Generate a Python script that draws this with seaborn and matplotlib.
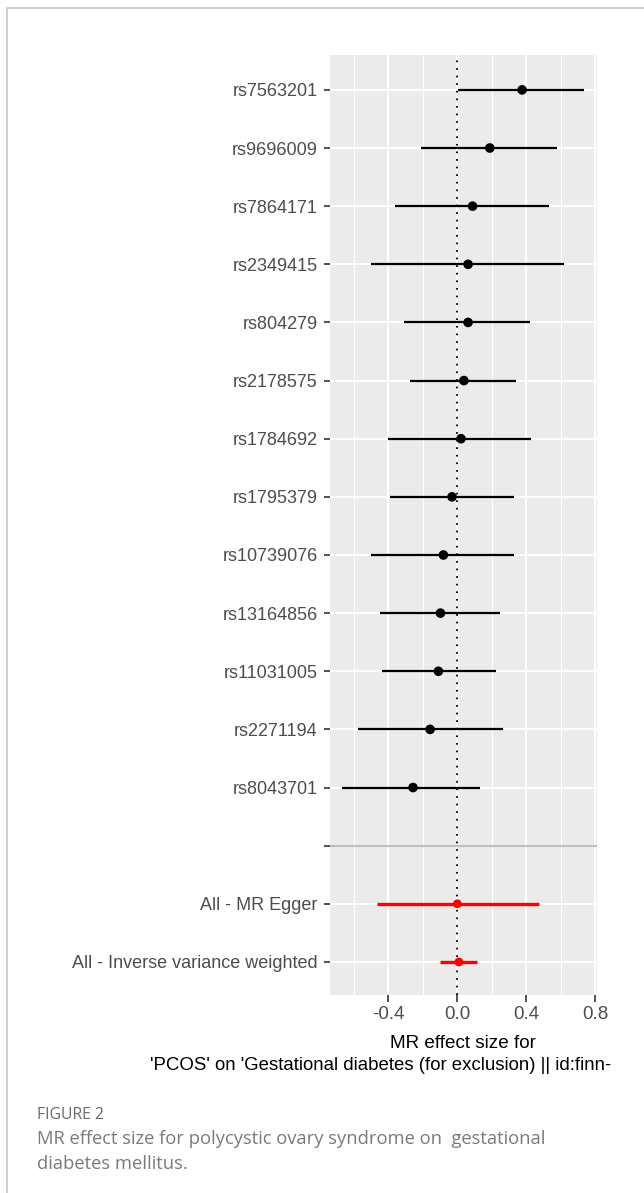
import numpy as np
import pandas as pd
import matplotlib
matplotlib.use("Agg")
import matplotlib.pyplot as plt
from matplotlib.lines import Line2D
import seaborn as sns

# ---------------- data ----------------
snps = ["rs7563201", "rs9696009", "rs7864171", "rs2349415", "rs804279",
        "rs2178575", "rs1784692", "rs1795379", "rs10739076", "rs13164856",
        "rs11031005", "rs2271194", "rs8043701"]
snp_b = [0.375, 0.188, 0.088, 0.062, 0.062, 0.038, 0.021, -0.031, -0.081,
         -0.098, -0.110, -0.158, -0.257]
snp_lo = [0.003, -0.212, -0.360, -0.500, -0.312, -0.272, -0.401, -0.389,
          -0.499, -0.448, -0.438, -0.577, -0.668]
snp_hi = [0.736, 0.579, 0.529, 0.619, 0.419, 0.340, 0.429, 0.330, 0.330,
          0.249, 0.221, 0.262, 0.132]

methods = ["All - MR Egger", "All - Inverse variance weighted"]
meth_b = [0.000, 0.009]
meth_lo = [-0.468, -0.102]
meth_hi = [0.471, 0.113]

row_labels = snps + [""] + methods
x_ticks = [-0.4, 0.0, 0.4, 0.8]
x_minor = [-0.6, -0.2, 0.2, 0.6]

title_line1 = "MR effect size for"
title_line2 = "'PCOS' on 'Gestational diabetes (for exclusion) || id:finn-"
fig_label = "FIGURE 2"
caption1 = "MR effect size for polycystic ovary syndrome on  gestational"
caption2 = "diabetes mellitus."

df = pd.DataFrame({
    "label": snps + methods,
    "b": snp_b + meth_b,
    "lo": snp_lo + meth_lo,
    "hi": snp_hi + meth_hi,
    "group": ["snp"] * len(snps) + ["all"] * len(methods),
})
df["pos"] = [row_labels.index(l) for l in df["label"]]

# ---------------- style ----------------
sns.set_theme(style="darkgrid", rc={
    "axes.facecolor": "#EBEBEB",
    "grid.color": "white",
    "axes.edgecolor": "#EBEBEB",
    "xtick.color": "#333333",
    "ytick.color": "#333333",
    "xtick.labelcolor": "#4D4D4D",
    "ytick.labelcolor": "#4D4D4D",
})
plt.rcParams["font.family"] = ["Liberation Sans", "DejaVu Sans"]

W, H = 644, 1193
fig = plt.figure(figsize=(W / 100, H / 100), dpi=100)

# outer frame (left and top only)
fig.add_artist(Line2D([7 / W, 7 / W], [0, 1 - 8 / H], color="#CCCCCC", lw=1.3,
                      transform=fig.transFigure))
fig.add_artist(Line2D([7 / W, 1], [1 - 8 / H, 1 - 8 / H], color="#CCCCCC", lw=1.3,
                      transform=fig.transFigure))

pl, pr, pt, pb = 330, 596.5, 55, 994.5
ax = fig.add_axes([pl / W, 1 - pb / H, (pr - pl) / W, (pb - pt) / H])

# grid
ax.set_xticks(x_ticks)
ax.set_xticks(x_minor, minor=True)
ax.set_yticks(range(len(row_labels)))
ax.set_yticklabels(row_labels)
ax.grid(True, which="major", axis="both", color="white", lw=1.4)
ax.grid(True, which="minor", axis="x", color="white", lw=0.8)
ax.set_axisbelow(True)

# separator line for blank row
ax.axhline(row_labels.index(""), color="#BEBEBE", lw=1.5, zorder=1.5)
# zero reference
ax.axvline(0, color="black", lw=1.3, ls=(0, (1, 3.2)), zorder=2)

# error bars
snp_df = df[df.group == "snp"]
all_df = df[df.group == "all"]
ax.hlines(snp_df["pos"], snp_df["lo"], snp_df["hi"], colors="black", lw=1.6, zorder=2.5)
ax.hlines(all_df["pos"], all_df["lo"], all_df["hi"], colors="#FF0000", lw=2.4, zorder=2.5)

# points
sns.scatterplot(data=df, x="b", y="pos", hue="group",
                palette={"snp": "black", "all": "#FF0000"},
                size="group", sizes={"snp": 48, "all": 40},
                legend=False, linewidth=0, ax=ax, zorder=3)

ax.set_xlim(-0.738, 0.806)
ax.set_ylim(15.56, -0.6)
ax.set_xlabel("")
ax.set_ylabel("")
for s in ax.spines.values():
    s.set_visible(False)

ax.tick_params(axis="y", which="major", length=4, width=1.2, pad=5,
               labelsize=13, left=True)
ax.tick_params(axis="x", which="major", length=5, width=1.2, pad=3,
               labelsize=13.5, bottom=True)
ax.tick_params(axis="x", which="minor", length=0)
ax.set_xticklabels([f"{v:.1f}" for v in x_ticks])

# axis title (two lines)
fig.text(463 / W, 1 - 1043 / H, title_line1, ha="center", va="center",
         fontsize=13.6, color="black")
fig.text(611 / W, 1 - 1066 / H, title_line2, ha="right", va="center",
         fontsize=13.4, color="black")

# caption
fig.text(37 / W, 1 - 1115 / H, fig_label, ha="left", va="center",
         fontsize=11.3, color="#6A6A6A", family=["Open Sans", "DejaVu Sans"])
fig.text(37 / W, 1 - 1139 / H, caption1, ha="left", va="center",
         fontsize=13.2, color="#7A7A7A", family=["Open Sans", "DejaVu Sans"])
fig.text(37 / W, 1 - 1164 / H, caption2, ha="left", va="center",
         fontsize=13.2, color="#7A7A7A", family=["Open Sans", "DejaVu Sans"])

fig.savefig("out.png", dpi=100, facecolor="white")
